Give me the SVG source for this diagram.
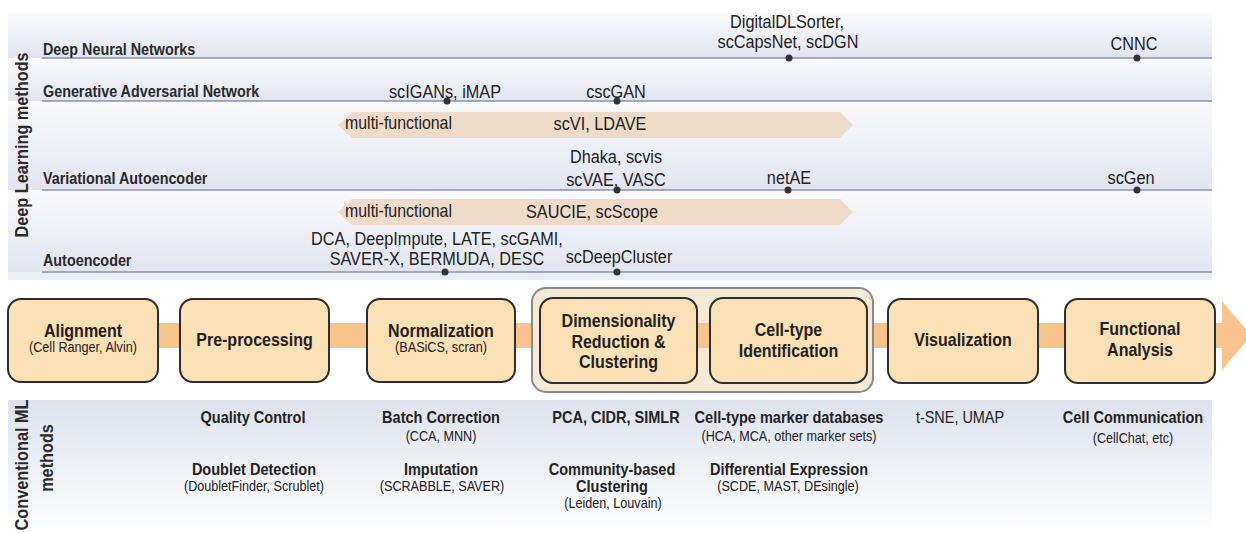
<svg xmlns="http://www.w3.org/2000/svg" width="1246" height="533" viewBox="0 0 1246 533">
<defs>
  <linearGradient id="band" x1="0" y1="0" x2="0" y2="1">
    <stop offset="0" stop-color="#fbfbfd"/>
    <stop offset="1" stop-color="#e2e5f0"/>
  </linearGradient>
  <linearGradient id="conv" x1="0" y1="0" x2="0" y2="1">
    <stop offset="0" stop-color="#dde2ed"/>
    <stop offset="1" stop-color="#ffffff"/>
  </linearGradient>
</defs>
<style>
  text { font-family: "Liberation Sans", Arial, sans-serif; fill: #222; transform: scaleX(0.87); transform-box: fill-box; transform-origin: center; text-anchor: middle; }
  .l { transform-origin: left; text-anchor: start; }
  .lab { font-size: 16.5px; font-weight: bold; fill: #2a2a2a; }
  .vl { font-size: 18.7px; font-weight: bold; fill: #2a2a2a; }
  .m { font-size: 18.7px; }
  .mf { font-size: 18.3px; }
  .bt { font-size: 18.4px; font-weight: bold; }
  .bs { font-size: 14.5px; }
  .ct { font-size: 16.7px; font-weight: bold; }
  .cs { font-size: 14.5px; }
  .cr { font-size: 16.6px; }
  .bandline { stroke: #8790b3; stroke-width: 1.6; }
  .dot { fill: #333; }
  .pink { fill: #efdbca; }
  .box { fill: #fce0b6; stroke: #2e2e2e; stroke-width: 2; }
  .flow { fill: #f8c38d; }
</style>
<rect x="0" y="0" width="1246" height="533" fill="#ffffff"/>

<g id="dl-panel">
  <rect x="8" y="13" width="1204" height="45" fill="url(#band)"/>
  <rect x="8" y="58" width="1204" height="43" fill="url(#band)"/>
  <rect x="8" y="101" width="1204" height="89" fill="url(#band)"/>
  <rect x="8" y="190" width="1204" height="82" fill="url(#band)"/>
  <rect x="8" y="272" width="1204" height="8" fill="#eceef5"/>
  <g transform="translate(28,145) rotate(-90)"><text class="vl" x="0" y="0">Deep Learning methods</text></g>
</g>

<g id="multi-arrows">
  <polygon class="pink" points="338,125 352,112 840,112 853,125 840,138 352,138"/>
  <polygon class="pink" points="338,212 352,199 840,199 853,212 840,225 352,225"/>
</g>

<g id="band-dnn">
  <line class="bandline" x1="42" y1="58" x2="1212" y2="58"/>
  <text class="lab l" x="43" y="55">Deep Neural Networks</text>
  <circle class="dot" cx="789" cy="58" r="3.5"/>
  <circle class="dot" cx="1137" cy="58" r="3.5"/>
  <text class="m" x="787" y="28">DigitalDLSorter,</text>
  <text class="m" x="788" y="48">scCapsNet, scDGN</text>
  <text class="m" x="1134" y="50">CNNC</text>
</g>

<g id="band-gan">
  <line class="bandline" x1="42" y1="101" x2="1212" y2="101"/>
  <text class="lab l" x="43" y="97">Generative Adversarial Network</text>
  <circle class="dot" cx="447" cy="101" r="3.5"/>
  <circle class="dot" cx="617" cy="101" r="3.5"/>
  <text class="m" x="445" y="98">scIGANs, iMAP</text>
  <text class="m" x="616" y="98">cscGAN</text>
</g>

<g id="band-vae">
  <line class="bandline" x1="42" y1="190" x2="1212" y2="190"/>
  <text class="lab l" x="43" y="184">Variational Autoencoder</text>
  <text class="mf l" x="345" y="129">multi-functional</text>
  <text class="m" x="600" y="130">scVI, LDAVE</text>
  <text class="m" x="616" y="163">Dhaka, scvis</text>
  <text class="m" x="616" y="186">scVAE, VASC</text>
  <text class="m" x="789" y="184">netAE</text>
  <text class="m" x="1131" y="184">scGen</text>
  <circle class="dot" cx="617" cy="190" r="3.5"/>
  <circle class="dot" cx="788" cy="190" r="3.5"/>
  <circle class="dot" cx="1137" cy="190" r="3.5"/>
</g>

<g id="band-ae">
  <line class="bandline" x1="42" y1="272" x2="1212" y2="272"/>
  <text class="lab l" x="43" y="266">Autoencoder</text>
  <text class="mf l" x="345" y="217">multi-functional</text>
  <text class="m" x="592" y="218">SAUCIE, scScope</text>
  <text class="m" x="437" y="245">DCA, DeepImpute, LATE, scGAMI,</text>
  <text class="m" x="437" y="265">SAVER-X, BERMUDA, DESC</text>
  <text class="m" x="619" y="263">scDeepCluster</text>
  <circle class="dot" cx="445" cy="272" r="3.5"/>
  <circle class="dot" cx="617" cy="272" r="3.5"/>
</g>

<g id="connectors">
  <rect class="flow" x="150" y="323" width="1075" height="25"/>
  <polygon class="flow" points="1222,301 1251,335.5 1222,370"/>
</g>

<g id="node-group-dr-ct">
  <rect x="532" y="288" width="341" height="104" rx="14" fill="#f6ead6" stroke="#8a8a8a" stroke-width="2"/>
  <rect class="flow" x="697" y="323" width="13" height="25"/>
</g>

<g id="node-alignment">
  <rect class="box" x="8" y="299" width="150" height="83" rx="13"/>
  <text class="bt" x="83" y="337">Alignment</text>
  <text class="bs" x="83" y="352">(Cell Ranger, Alvin)</text>
</g>
<g id="node-preprocessing">
  <rect class="box" x="180" y="299" width="149" height="83" rx="13"/>
  <text class="bt" x="254.5" y="346">Pre-processing</text>
</g>
<g id="node-normalization">
  <rect class="box" x="367" y="299" width="148" height="83" rx="13"/>
  <text class="bt" x="441" y="337">Normalization</text>
  <text class="bs" x="441" y="352">(BASiCS, scran)</text>
</g>
<g id="node-dimred">
  <rect class="box" x="540" y="298" width="157" height="85" rx="13"/>
  <text class="bt" x="618.5" y="327">Dimensionality</text>
  <text class="bt" x="618.5" y="348">Reduction &amp;</text>
  <text class="bt" x="618.5" y="368">Clustering</text>
</g>
<g id="node-celltype">
  <rect class="box" x="710" y="298" width="157" height="85" rx="13"/>
  <text class="bt" x="788.5" y="336">Cell-type</text>
  <text class="bt" x="788.5" y="357">Identification</text>
</g>
<g id="node-visualization">
  <rect class="box" x="888" y="299" width="150" height="84" rx="13"/>
  <text class="bt" x="963" y="346">Visualization</text>
</g>
<g id="node-functional">
  <rect class="box" x="1065" y="299" width="150" height="84" rx="13"/>
  <text class="bt" x="1140" y="335">Functional</text>
  <text class="bt" x="1140" y="356">Analysis</text>
</g>

<g id="conv-panel">
  <rect x="8" y="400" width="1204" height="133" fill="url(#conv)"/>
  <g transform="translate(28,465) rotate(-90)"><text class="vl" x="0" y="0">Conventional ML</text></g>
  <g transform="translate(53,458) rotate(-90)"><text class="vl" x="0" y="0">methods</text></g>
  <text class="ct" x="253" y="423">Quality Control</text>
  <text class="ct" x="254" y="475">Doublet Detection</text>
  <text class="cs" x="254" y="491">(DoubletFinder, Scrublet)</text>
  <text class="ct" x="441" y="423">Batch Correction</text>
  <text class="cs" x="441" y="441">(CCA, MNN)</text>
  <text class="ct" x="441" y="475">Imputation</text>
  <text class="cs" x="442" y="491">(SCRABBLE, SAVER)</text>
  <text class="ct" x="616" y="423">PCA, CIDR, SIMLR</text>
  <text class="ct" x="612" y="475">Community-based</text>
  <text class="ct" x="612" y="492">Clustering</text>
  <text class="cs" x="613" y="508">(Leiden, Louvain)</text>
  <text class="ct" x="789" y="423">Cell-type marker databases</text>
  <text class="cs" x="789" y="441">(HCA, MCA, other marker sets)</text>
  <text class="ct" x="789" y="475">Differential Expression</text>
  <text class="cs" x="788" y="491">(SCDE, MAST, DEsingle)</text>
  <text class="cr" x="960" y="423">t-SNE, UMAP</text>
  <text class="ct" x="1133" y="423">Cell Communication</text>
  <text class="cs" x="1133" y="443">(CellChat, etc)</text>
</g>
</svg>
